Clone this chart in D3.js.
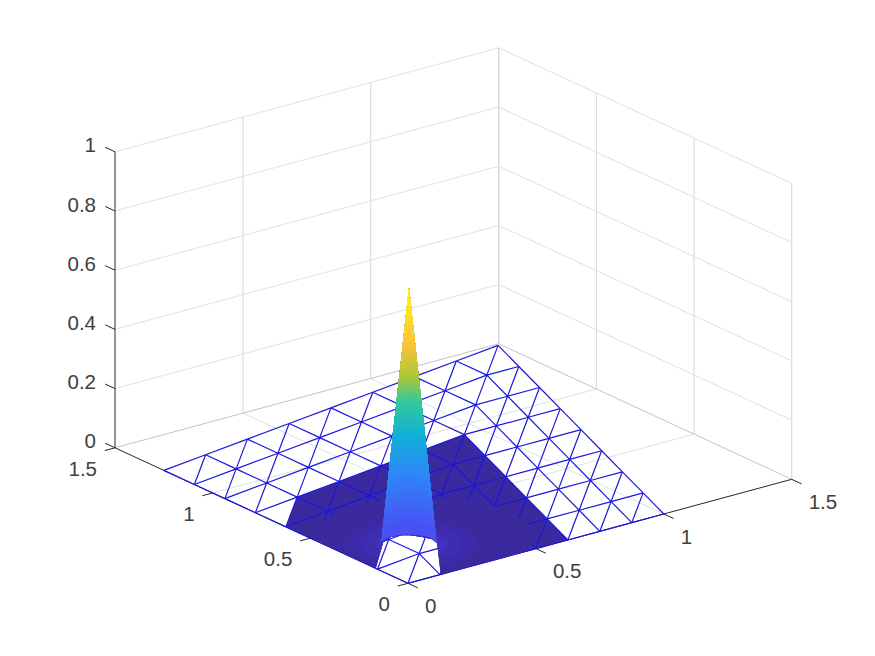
<!DOCTYPE html>
<html><head><meta charset="utf-8">
<script src="https://cdn.jsdelivr.net/npm/d3@7"></script>
<style>html,body{margin:0;padding:0;background:#fff}text{font-family:"Liberation Sans",Arial,sans-serif;font-size:20.5px;fill:#404040}</style>
</head><body><svg id="c" width="875" height="656"></svg>
<script>
// ---- data ----
const xTicks = [0, 0.5, 1, 1.5];
const yTicks = [0, 0.5, 1, 1.5];
const zTicks = [0, 0.2, 0.4, 0.6, 0.8, 1];
const meshDivisions = 8;
const meshCornerR = [1, 0];
const meshCornerF = [1.49, 1.49];
const meshCornerL = [0, 1.25];
// filled part of the mesh, in [i, j] mesh node indices
const patchNodes = [[0,0],[5,0],[5,5],[1,5],[0,4]];
// open hole at the spike's foot, data coordinates
const holeX = [0, 0.158, 0.201, 0.236, 0.261, 0.282, 0.294, 0.285, 0.128, 0];
const holeY = [0.165, 0.334, 0.355, 0.350, 0.331, 0.297, 0.261, 0.224, 0, 0];
// spike
const spikeCentre = [0.21, 0.27];
const spikeHeight = 0.866;
const spikeRadius = 0.087;
// height at which the spike takes each colour of parulaStops, from the second stop on
const spikeColourZ = [0.03, 0.216, 0.35, 0.47, 0.55, 0.67, 0.866];
// raised low area that hides the mesh round the spike
const coverCentre = [0.29, 0.295];
const coverRadius = 0.34;
// faint glow: radius, colour value
const glowCentre = [0.22, 0.27];
const glowRadii = [0.205, 0.16, 0.115];
const glowValues = [0.015, 0.03, 0.05];
// parula
const parulaStops = ["#3e26a8","#4852f4","#2e87f7","#11b1d6","#37c897","#abc739","#fec338","#f9fb15"];

// ---- projection through scales ----
const ox = 408, oy = 583.3;
const xToH = d3.scaleLinear().domain([0,1.5]).range([0,383.7]);
const xToV = d3.scaleLinear().domain([0,1.5]).range([0,-104]);
const yToH = d3.scaleLinear().domain([0,1.5]).range([0,-293]);
const yToV = d3.scaleLinear().domain([0,1.5]).range([0,-135.5]);
const zToV = d3.scaleLinear().domain([0,1]).range([0,-296]);
const proj = (x,y,z=0) => [ox + xToH(x) + yToH(y), oy + xToV(x) + yToV(y) + zToV(z)];
const parula = d3.scaleLinear().domain(parulaStops.map((_,i)=>i/7)).range(parulaStops).interpolate(d3.interpolateRgb).clamp(true);
const spikeColour = d3.scaleLinear().domain(spikeColourZ).range(parulaStops.slice(1)).interpolate(d3.interpolateRgb).clamp(true);
const line = d3.line();
const svg = d3.select("#c");

// mesh node in data coordinates
function node(i,j){
  const n = meshDivisions;
  if (i>=j) return [ i/n*meshCornerR[0] + j/n*(meshCornerF[0]-meshCornerR[0]),
                     i/n*meshCornerR[1] + j/n*(meshCornerF[1]-meshCornerR[1]) ];
  return [ j/n*meshCornerL[0] + i/n*(meshCornerF[0]-meshCornerL[0]),
           j/n*meshCornerL[1] + i/n*(meshCornerF[1]-meshCornerL[1]) ];
}
const nodeP = (i,j) => { const d=node(i,j); return proj(d[0],d[1]); };

// ---- grid ----
const gridCol = "#e1e1e1", wallCol = "#d6d6d6", edgeCol = "#c4c4c4";
const g = svg.append("g").attr("fill","none");
const seg = (a,b,c,w=1) => g.append("path").attr("d",line([a,b])).attr("stroke",c).attr("stroke-width",w);
xTicks.slice(1).forEach(x=>{
  if(x<1.5) seg(proj(x,0),proj(x,1.5),gridCol);
  seg(proj(x,1.5),proj(x,1.5,1),wallCol);
});
yTicks.forEach(y=>{
  if(y>0 && y<1.5) seg(proj(0,y),proj(1.5,y),gridCol);
  seg(proj(1.5,y),proj(1.5,y,1),wallCol);
});
zTicks.forEach(z=>{
  const c = z===0 ? edgeCol : gridCol;
  seg(proj(0,1.5,z),proj(1.5,1.5,z),c);
  seg(proj(1.5,1.5,z),proj(1.5,0,z),c);
});

// ---- axes ----
const axCol = "#262626";
const a = svg.append("g").attr("fill","none");
const axSeg = (p,q) => a.append("path").attr("d",line([p,q])).attr("stroke",axCol).attr("stroke-width",1);
axSeg(proj(0,0),proj(1.5,0));
axSeg(proj(0,0),proj(0,1.5));
axSeg(proj(0,1.5),proj(0,1.5,1));
const tickLen = 0.05;
xTicks.forEach(x=>axSeg(proj(x,0),proj(x,-tickLen)));
yTicks.forEach(y=>axSeg(proj(0,y),proj(-tickLen*0.8,y)));
zTicks.forEach(z=>axSeg(proj(0,1.5,z),proj(0,1.5+tickLen,z)));
const t = svg.append("g");
xTicks.forEach(x=>{const p=proj(x,0);
  t.append("text").attr("x",p[0]+17).attr("y",p[1]+29.7).text(x)
   .attr("text-anchor","start");});
yTicks.forEach(y=>{const p=proj(0,y);
  t.append("text").attr("x",p[0]-18).attr("y",p[1]+28).text(y)
   .attr("text-anchor","end");});
zTicks.forEach(z=>{const p=proj(0,1.5,z);
  t.append("text").attr("x",p[0]-19).attr("y",p[1]+0.5).text(z)
   .attr("text-anchor","end");});

// ---- filled patch (hole left open) ----
const holePts = holeX.map((x,i)=>proj(x,holeY[i]));
const patchPts = patchNodes.map(n=>nodeP(n[0],n[1]));
const patchPath = line(patchPts)+"Z"+line(holePts)+"Z";
svg.append("path").attr("d",patchPath).attr("fill","#3b2a9e").attr("fill-rule","evenodd");

// ---- mesh ----
const mesh = svg.append("g").attr("fill","none").attr("stroke","#1818dc").attr("stroke-width",1.2);
const n = meshDivisions;
d3.range(n+1).forEach(i=>d3.range(n+1).forEach(j=>{
  const p=nodeP(i,j);
  if(i<n) mesh.append("path").attr("d",line([p,nodeP(i+1,j)]));
  if(j<n) mesh.append("path").attr("d",line([p,nodeP(i,j+1)]));
  if(i<n&&j<n) mesh.append("path").attr("d",line([p,nodeP(i+1,j+1)]));
}));

// ---- cover over the mesh, clipped to patch minus hole ----
svg.append("clipPath").attr("id","pc").append("path")
  .attr("d",patchPath).attr("clip-rule","evenodd");
const cover = svg.append("g").attr("clip-path","url(#pc)");
const circle = (c,r,th) => proj(c[0]+r*Math.cos(th),c[1]+r*Math.sin(th));
const thetas = d3.range(0,2*Math.PI,0.06);
cover.append("path").attr("d",line(thetas.map(th=>circle(coverCentre,coverRadius,th)))+"Z").attr("fill","#3b2a9e");
glowRadii.forEach((r,k)=>{
  cover.append("path").attr("d",line(thetas.map(th=>circle(glowCentre,r,th)))+"Z")
    .attr("fill",parula(glowValues[k])).attr("fill-opacity",0.6);
});

// ---- spike: back half of a cone, coloured by height; each layer covers all above it ----
const rOfZ = d3.scaleLinear().domain([0,spikeHeight]).range([spikeRadius,0]);
const backAngles = d3.range(-0.23,0.77+0.001,0.02).map(f=>f*Math.PI);
const ring = z => backAngles.map(th=>{
  const r=rOfZ(z);
  return proj(spikeCentre[0]+r*Math.cos(th),spikeCentre[1]+r*Math.sin(th),z);
});
const levels = d3.range(0,spikeHeight,0.006);
const apex = proj(spikeCentre[0],spikeCentre[1],spikeHeight);
const cone = svg.append("g");
levels.forEach(z=>{
  cone.append("path").attr("d",line(ring(z).concat([apex]))+"Z").attr("fill",spikeColour(z));
});
</script></body></html>
